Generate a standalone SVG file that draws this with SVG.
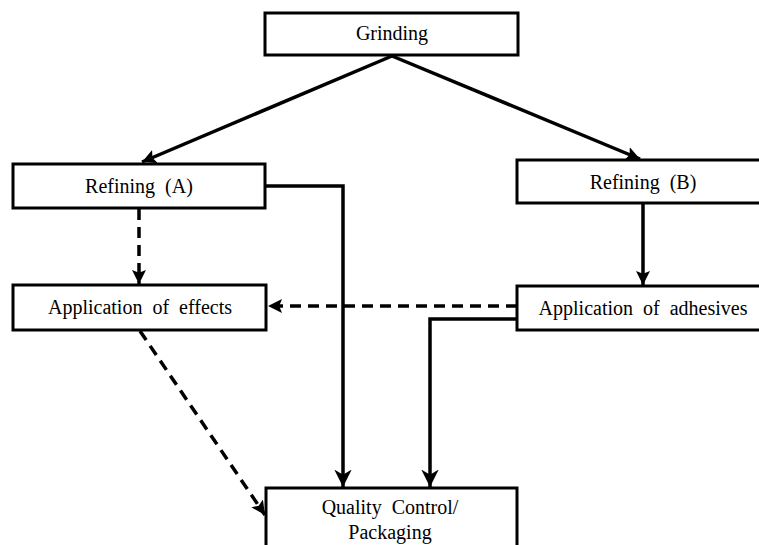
<svg xmlns="http://www.w3.org/2000/svg" width="759" height="545" viewBox="0 0 759 545">
<defs>
<style>
.box{fill:#fff;stroke:#000;stroke-width:3}
.t{font-family:"Liberation Serif","DejaVu Serif",serif;font-size:20px;fill:#000;text-anchor:middle;word-spacing:5px}
.c{fill:none;stroke:#000;stroke-width:3.5}
.d{stroke-dasharray:11 7}
</style>
<marker id="ah" viewBox="0 0 10 10" refX="10" refY="5" markerWidth="4" markerHeight="4" markerUnits="strokeWidth" orient="auto">
<path d="M0,0 L10,5 L0,10 L2,5 z" fill="#000"/>
</marker>
<marker id="ahb" viewBox="0 0 10 10" refX="10" refY="5" markerWidth="5" markerHeight="5" markerUnits="strokeWidth" orient="auto">
<path d="M0,0 L10,5 L0,10 L3,5 z" fill="#000"/>
</marker>
</defs>
<rect width="759" height="545" fill="#fff"/>
<g id="connectors">
<path class="c" d="M392,56 L142,162" marker-end="url(#ah)"/>
<path class="c" d="M392,56 L640,159" marker-end="url(#ah)"/>
<path class="c" d="M265,186 H343 V487" marker-end="url(#ahb)"/>
<path class="c d" d="M139,209 V284" marker-end="url(#ah)"/>
<path class="c" d="M643,204 V285" marker-end="url(#ah)"/>
<path class="c d" d="M517,306 H268" marker-end="url(#ah)"/>
<path class="c" d="M517,319 H430 V487" marker-end="url(#ahb)"/>
<path class="c d" d="M140,331 L265,515" marker-end="url(#ah)"/>
</g>
<g id="grinding">
<rect class="box" x="265" y="13" width="253" height="42"/>
<text class="t" x="392" y="40">Grinding</text>
</g>
<g id="refiningA">
<rect class="box" x="13" y="164" width="252" height="44"/>
<text class="t" x="139" y="193">Refining (A)</text>
</g>
<g id="refiningB">
<rect class="box" x="517" y="160" width="260" height="43"/>
<text class="t" x="643" y="189">Refining (B)</text>
</g>
<g id="effects">
<rect class="box" x="13" y="285" width="253" height="45"/>
<text class="t" x="140" y="314">Application of effects</text>
</g>
<g id="adhesives">
<rect class="box" x="517" y="286" width="260" height="44"/>
<text class="t" x="643" y="315">Application of adhesives</text>
</g>
<g id="qc">
<rect class="box" x="266" y="488" width="251" height="80"/>
<text class="t" x="390" y="514">Quality Control/</text>
<text class="t" x="390" y="539">Packaging</text>
</g>
</svg>
